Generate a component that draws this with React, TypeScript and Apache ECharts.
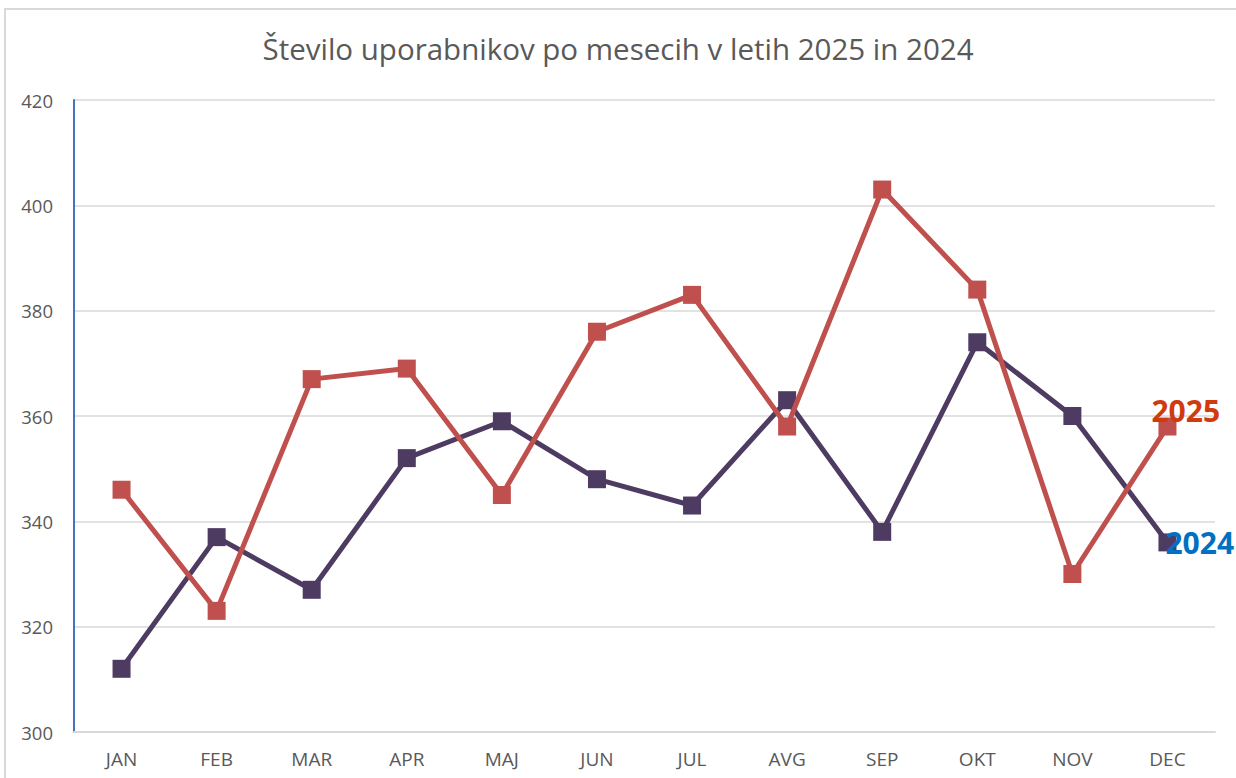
import React, { useEffect, useRef } from "react";
import * as echarts from "echarts";

const months = ["JAN", "FEB", "MAR", "APR", "MAJ", "JUN", "JUL", "AVG", "SEP", "OKT", "NOV", "DEC"];
const users2025 = [346, 323, 367, 369, 345, 376, 383, 358, 403, 384, 330, 358];
const users2024 = [312, 337, 327, 352, 359, 348, 343, 363, 338, 374, 360, 336];
const titleText = "Število uporabnikov po mesecih v letih 2025 in 2024";

const FONT = "'Open Sans', 'Noto Sans', sans-serif";

function withEndLabel(values: number[], text: string, color: string, offset: [number, number]) {
  return values.map((v, i) =>
    i === values.length - 1
      ? {
          value: v,
          label: {
            show: true,
            formatter: text,
            position: "right",
            offset,
            color,
            fontSize: 30,
            fontWeight: "bold",
            fontFamily: FONT,
          },
        }
      : v
  );
}

export default function App() {
  const ref = useRef<HTMLDivElement>(null);
  useEffect(() => {
    if (!ref.current) return;
    const chart = echarts.init(ref.current, undefined, { renderer: "svg" });
    chart.setOption({
      animation: false,
      backgroundColor: "#ffffff",
      title: {
        text: titleText,
        left: "center",
        top: 28,
        textStyle: { fontFamily: FONT, fontSize: 29.5, fontWeight: "normal", color: "#595959" },
      },
      graphic: [
        {
          type: "rect",
          shape: { x: 5, y: 9, width: 1250, height: 800 },
          style: { fill: "none", stroke: "#D9D9D9", lineWidth: 2 },
          silent: true,
        },
      ],
      grid: { left: 74, right: 21, top: 100, bottom: 46 },
      xAxis: {
        type: "category",
        data: months,
        boundaryGap: true,
        axisLine: { show: true, lineStyle: { color: "#D9D9D9", width: 2 } },
        axisTick: { show: false },
        axisLabel: { color: "#595959", fontSize: 19, fontFamily: FONT, margin: 17 },
      },
      yAxis: {
        type: "value",
        min: 300,
        max: 420,
        interval: 20,
        axisLine: { show: true, lineStyle: { color: "#4472C4", width: 2 } },
        axisTick: { show: false },
        splitLine: { lineStyle: { color: "#D9D9D9", width: 1.5 } },
        axisLabel: { color: "#595959", fontSize: 18.5, fontFamily: FONT, margin: 21 },
      },
      series: [
        {
          name: "2024",
          type: "line",
          data: withEndLabel(users2024, "2024", "#0070C0", [-16, 0]),
          symbol: "rect",
          symbolSize: 18,
          lineStyle: { color: "#4E3B62", width: 5 },
          itemStyle: { color: "#4E3B62" },
          z: 2,
        },
        {
          name: "2025",
          type: "line",
          data: withEndLabel(users2025, "2025", "#D03A0F", [-30, -16]),
          symbol: "rect",
          symbolSize: 18,
          lineStyle: { color: "#C0504D", width: 5 },
          itemStyle: { color: "#C0504D" },
          z: 3,
        },
      ],
    });
    return () => chart.dispose();
  }, []);
  return (
    <div
      ref={ref}
      style={{ position: "fixed", left: 0, top: 0, width: 1236, height: 778 }}
    />
  );
}
